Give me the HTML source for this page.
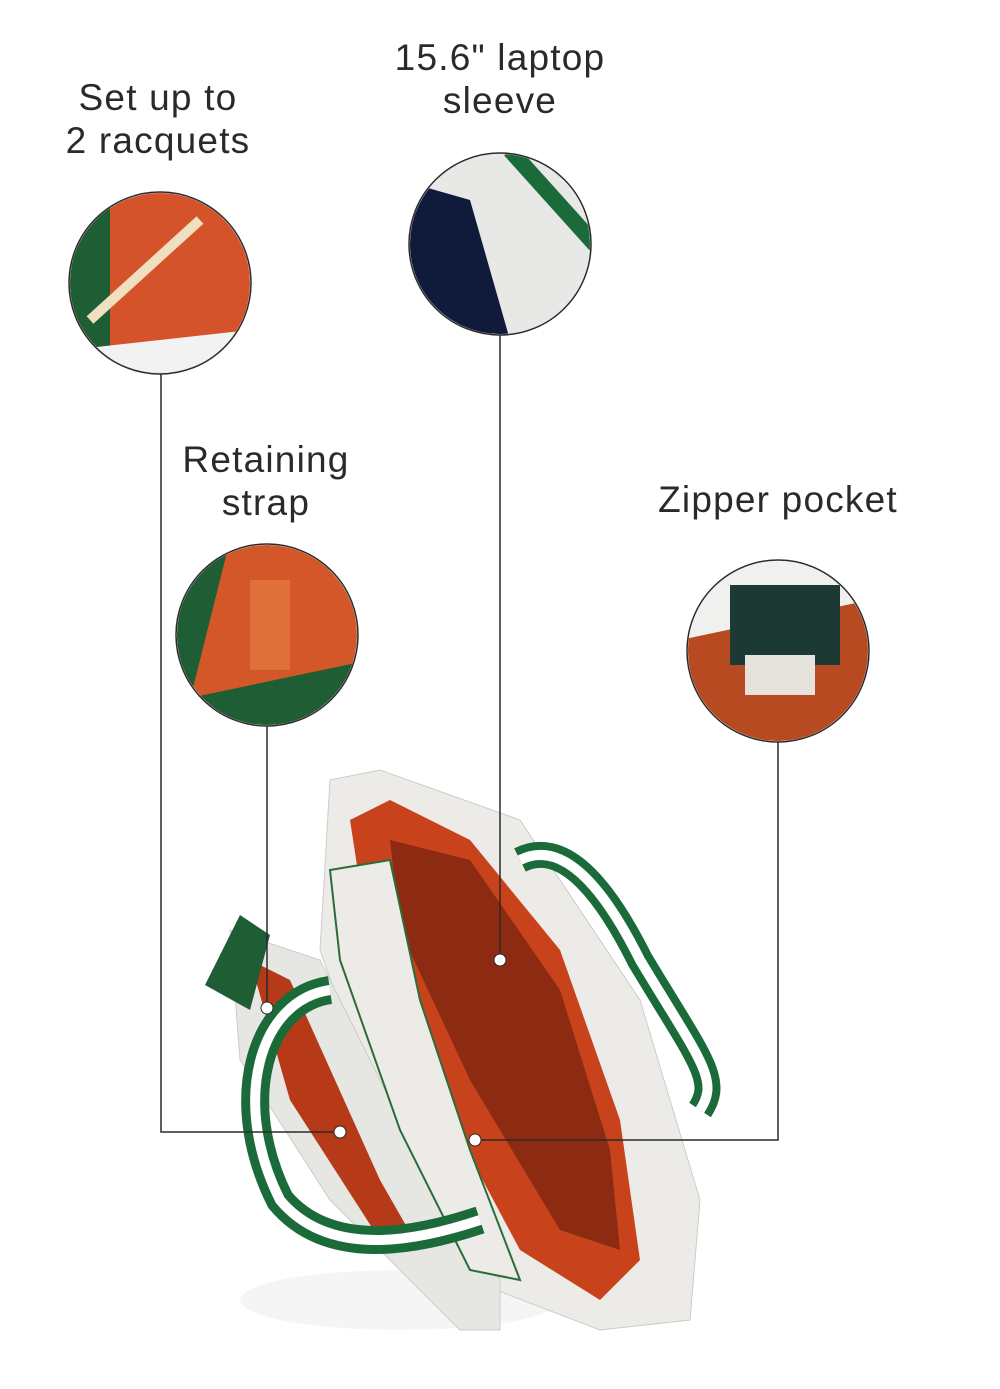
<!DOCTYPE html>
<html><head><meta charset="utf-8"><style>
html,body{margin:0;padding:0;background:#fff;}
body{width:1000px;height:1389px;position:relative;overflow:hidden;font-family:"Liberation Sans",sans-serif;}
.lbl{position:absolute;text-align:center;font-size:37px;line-height:43px;color:#2a2a2a;letter-spacing:1.2px;}
</style></head><body>
<div class="lbl" style="left:18px;top:76px;width:280px;">Set up to<br>2 racquets</div>
<div class="lbl" style="left:350px;top:36px;width:300px;">15.6" laptop<br>sleeve</div>
<div class="lbl" style="left:126px;top:438px;width:280px;">Retaining<br>strap</div>
<div class="lbl" style="left:600px;top:478px;width:356px;">Zipper pocket</div>
<svg width="1000" height="1389" style="position:absolute;left:0;top:0">
<defs>
<clipPath id="c1"><circle cx="160" cy="283" r="90"/></clipPath>
<clipPath id="c2"><circle cx="500" cy="244" r="90"/></clipPath>
<clipPath id="c3"><circle cx="267" cy="635" r="90"/></clipPath>
<clipPath id="c4"><circle cx="778" cy="651" r="90"/></clipPath>
</defs>
<g>
<ellipse cx="400" cy="1300" rx="160" ry="30" fill="#eee" opacity="0.6"/>
<path d="M330 780 L380 770 L520 820 L640 1000 L700 1200 L690 1320 L600 1330 L470 1280 L380 1120 L320 950 Z" fill="#ecebe8" stroke="#ccc"/>
<path d="M230 930 L320 960 L400 1120 L500 1280 L500 1330 L460 1330 L330 1200 L240 1060 Z" fill="#e6e6e3" stroke="#ccc"/>
<path d="M350 820 L390 800 L470 840 L560 950 L620 1120 L640 1260 L600 1300 L520 1250 L440 1100 L370 950 Z" fill="#c8431c"/>
<path d="M390 840 L470 860 L560 990 L610 1150 L620 1250 L560 1230 L470 1080 L400 930 Z" fill="#8c2a12"/>
<path d="M330 870 L390 860 L420 1000 L470 1150 L520 1280 L470 1270 L400 1130 L340 960 Z" fill="#ecebe8" stroke="#2c6b3a" stroke-width="2"/>
<path d="M250 960 L290 980 L380 1180 L420 1250 L380 1240 L290 1100 Z" fill="#b63a18"/>
<path d="M205 985 L240 915 L270 935 L250 1010 Z" fill="#1f5e35"/>
<path d="M520 860 C560 840 600 880 640 960 C700 1060 720 1080 700 1110" fill="none" stroke="#1b6b3a" stroke-width="26"/>
<path d="M520 860 C560 840 600 880 640 960 C700 1060 720 1080 700 1110" fill="none" stroke="#fff" stroke-width="10"/>
<path d="M330 990 C260 1000 230 1100 280 1200 C330 1260 420 1240 480 1220" fill="none" stroke="#1b6b3a" stroke-width="28"/>
<path d="M330 990 C260 1000 230 1100 280 1200 C330 1260 420 1240 480 1220" fill="none" stroke="#fff" stroke-width="10"/>
</g>
<g clip-path="url(#c1)"><rect x="60" y="190" width="200" height="190" fill="#d4532a"/><rect x="60" y="190" width="50" height="190" fill="#1f5e35"/><path d="M70 350 L250 330 L250 380 L70 380Z" fill="#f2f2f2"/><path d="M90 320 L200 220" stroke="#f0e0c0" stroke-width="10"/></g>
<g clip-path="url(#c2)"><rect x="400" y="150" width="200" height="190" fill="#e8e8e6"/><path d="M400 180 L470 200 L510 340 L400 340Z" fill="#101a3a"/><path d="M510 150 L600 250" stroke="#1b6b3a" stroke-width="16"/></g>
<g clip-path="url(#c3)"><rect x="170" y="540" width="200" height="190" fill="#d4572a"/><path d="M170 540 L230 540 L190 700 L170 700Z" fill="#1f5e35"/><path d="M180 700 L370 660 L370 730 L170 730Z" fill="#1f5e35"/><rect x="250" y="580" width="40" height="90" fill="#e0703a"/></g>
<g clip-path="url(#c4)"><rect x="680" y="555" width="200" height="190" fill="#f0f0ee"/><path d="M680 640 L870 600 L870 745 L680 745Z" fill="#b84a22"/><rect x="730" y="585" width="110" height="80" fill="#1c3a33"/><rect x="745" y="655" width="70" height="40" fill="#e6e2dc"/></g>
<g fill="none" stroke="#2a2a2a" stroke-width="1.5">
<circle cx="160" cy="283" r="91"/><circle cx="500" cy="244" r="91"/><circle cx="267" cy="635" r="91"/><circle cx="778" cy="651" r="91"/>
<polyline points="161,374 161,1132 340,1132"/>
<line x1="500" y1="335" x2="500" y2="960"/>
<line x1="267" y1="726" x2="267" y2="1008"/>
<polyline points="778,742 778,1140 475,1140"/>
</g>
<g fill="#fff" stroke="#2a2a2a" stroke-width="1"><circle cx="340" cy="1132" r="6"/><circle cx="500" cy="960" r="6"/><circle cx="267" cy="1008" r="6"/><circle cx="475" cy="1140" r="6"/></g>
</svg>
</body></html>
